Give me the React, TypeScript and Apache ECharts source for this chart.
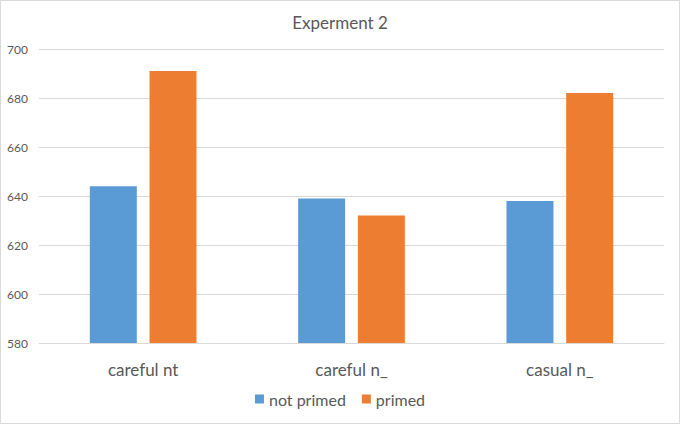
import React, { useEffect, useRef } from "react";
import * as echarts from "echarts";

const categories = ["careful nt", "careful n_", "casual n_"];
const notPrimed = [644, 639, 638];
const primed = [691, 632, 682];
const seriesNames = ["not primed", "primed"];
const titleText = "Experment 2";

export default function App() {
  const ref = useRef<HTMLDivElement>(null);
  useEffect(() => {
    const chart = echarts.init(ref.current!, null, { renderer: "svg" });
    const font = "Lato, 'Open Sans', sans-serif";
    chart.setOption({
      animation: false,
      backgroundColor: "#ffffff",
      textStyle: { fontFamily: font },
      title: {
        text: titleText,
        left: "center",
        top: 9,
        textStyle: { fontFamily: font, fontSize: 17, fontWeight: "normal", color: "#595959" },
      },
      graphic: [
        {
          type: "rect",
          shape: { x: 0.5, y: 0.5, width: 679, height: 423 },
          style: { fill: "none", stroke: "#d9d9d9", lineWidth: 1 },
          silent: true,
        },
      ],
      legend: {
        data: seriesNames,
        bottom: 12,
        left: "center",
        icon: "rect",
        itemWidth: 9,
        itemHeight: 9,
        itemGap: 16,
        textStyle: { fontFamily: font, fontSize: 16, color: "#595959" },
      },
      grid: { left: 39, right: 16, top: 49, bottom: 81 },
      xAxis: {
        type: "category",
        data: categories,
        axisLine: { lineStyle: { color: "#d9d9d9" } },
        axisTick: { show: false },
        axisLabel: { fontFamily: font, fontSize: 17, color: "#595959", margin: 18 },
      },
      yAxis: {
        type: "value",
        min: 580,
        max: 700,
        interval: 20,
        axisLine: { show: false },
        axisTick: { show: false },
        splitLine: { lineStyle: { color: "#d9d9d9" } },
        axisLabel: { fontFamily: font, fontSize: 12, color: "#595959", margin: 11 },
      },
      series: [
        {
          name: seriesNames[0],
          type: "bar",
          data: notPrimed,
          barWidth: 47,
          barGap: "27%",
          itemStyle: { color: "#5b9bd5" },
        },
        {
          name: seriesNames[1],
          type: "bar",
          data: primed,
          barWidth: 47,
          barGap: "27%",
          itemStyle: { color: "#ed7d31" },
        },
      ],
    });
    return () => chart.dispose();
  }, []);
  return (
    <div
      ref={ref}
      style={{ position: "fixed", left: 0, top: 0, width: 680, height: 424 }}
    />
  );
}
